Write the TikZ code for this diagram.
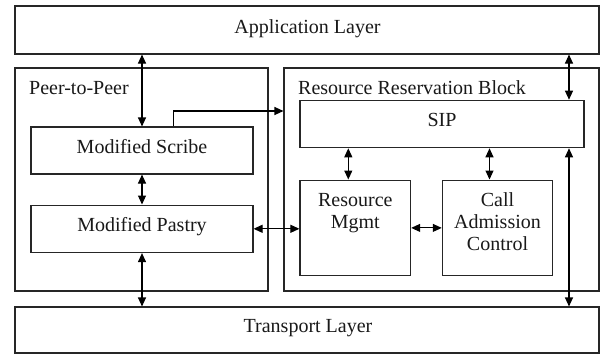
\documentclass[tikz,border=0pt]{standalone}
\usepackage{fontspec}
\setmainfont{Liberation Serif}
\usetikzlibrary{arrows.meta}
\begin{document}
\begin{tikzpicture}[x=1pt,y=-1pt,
  box/.style={draw=black!85, line width=1.1pt, rectangle, inner sep=0pt},
  txt/.style={font=\fontsize{20}{22.5}\selectfont, inner sep=0pt, anchor=base, text=black!90},
  ltxt/.style={txt, anchor=base west},
  arr/.style={line width=1.1pt, draw=black, {Triangle[length=9pt,width=8pt]}-{Triangle[length=9pt,width=8pt]}},
  sarr/.style={line width=1.1pt, draw=black, -{Triangle[length=9pt,width=8pt]}}]
\useasboundingbox (0,0) rectangle (600,354);
\fill[white] (0,0) rectangle (600,354);
% boxes (corner-based)
\node[box, minimum width=584pt, minimum height=48pt] (app) at (307,30) {};
\node[box, minimum width=253pt, minimum height=223pt] (p2p) at (141.5,179.5) {};
\node[box, minimum width=315pt, minimum height=223pt] (rrb) at (441.5,179.5) {};
\node[box, minimum width=584pt, minimum height=46pt] (trans) at (307,330) {};
\node[box, minimum width=222pt, minimum height=47pt] (scribe) at (142,150.5) {};
\node[box, minimum width=222pt, minimum height=47.5pt] (pastry) at (142,228.8) {};
\node[box, minimum width=284pt, minimum height=47.5pt] (sip) at (442,124) {};
\node[box, minimum width=110.7pt, minimum height=95.7pt] (rm) at (355.3,227.9) {};
\node[box, minimum width=110.4pt, minimum height=95.7pt] (cac) at (497.5,227.9) {};
% texts
\node[txt] (tapp) at (307.5,33) {Application Layer};
\node[txt] (ttrans) at (308,332) {Transport Layer};
\node[ltxt] (tp2p) at (29,94) {Peer-to-Peer};
\node[ltxt] (trrb) at (298,94) {Resource Reservation Block};
\node[txt] (tscribe) at (142,153) {Modified Scribe};
\node[txt] (tpastry) at (142,231.7) {Modified Pastry};
\node[txt] (tsip) at (442,126) {SIP};
\node[txt] (trm1) at (355.3,206) {Resource};
\node[txt] (trm2) at (355.3,228.3) {Mgmt};
\node[txt] (tcac1) at (497.5,206) {Call};
\node[txt] (tcac2) at (497.5,228.5) {Admission};
\node[txt] (tcac3) at (497.5,250.8) {Control};
% connectors
\coordinate (turn) at (173.3,111);
\coordinate (rx) at (569,0);
\draw[arr] (scribe.north |- app.south) -- (scribe.north);
\draw[arr] (scribe.south) -- (pastry.north);
\draw[arr] (pastry.south) -- (pastry.south |- trans.north);
\draw[sarr] (scribe.north -| turn) -- (turn) -- (rrb.west |- turn);
\draw[arr] (pastry.east) -- (rm.west |- pastry.east);
\draw[arr] (rm.east) -- (cac.west);
\draw[arr] ([xshift=-7pt]rm.north |- sip.south) -- ([xshift=-7pt]rm.north);
\draw[arr] ([xshift=-8pt]cac.north |- sip.south) -- ([xshift=-8pt]cac.north);
\draw[arr] (rx |- app.south) -- (rx |- sip.north);
\draw[arr] (rx |- sip.south) -- (rx |- trans.north);
\end{tikzpicture}
\end{document}
